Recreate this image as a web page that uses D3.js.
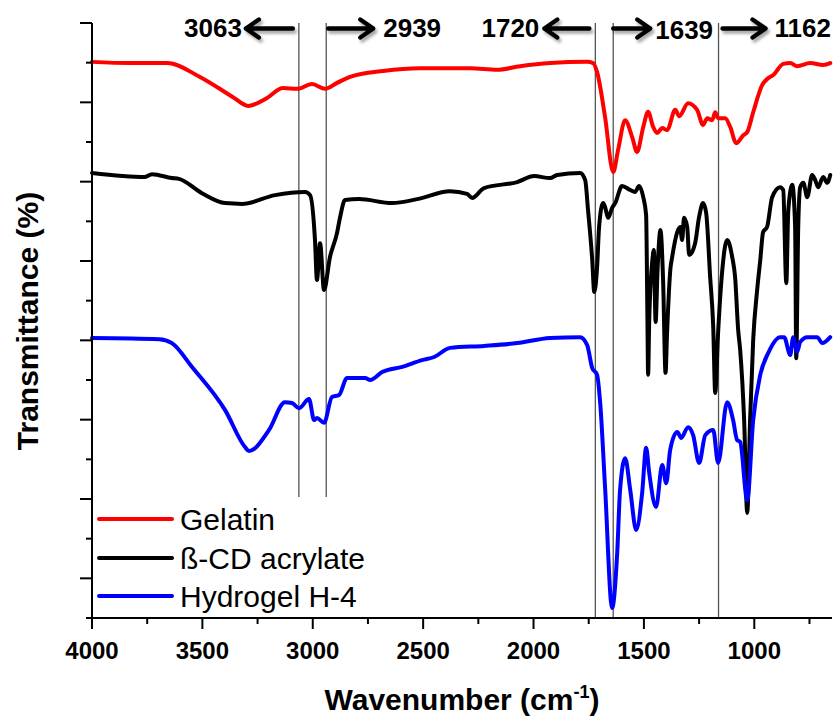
<!DOCTYPE html>
<html>
<head>
<meta charset="utf-8">
<script src="https://cdn.jsdelivr.net/npm/d3@7"></script>
<style>
  html, body { margin: 0; padding: 0; background: #fff; }
  svg { display: block; }
  text { font-family: Arial, "Liberation Sans", Helvetica, sans-serif; }
</style>
</head>
<body>
<svg id="chart" width="837" height="716"></svg>
<script>
// ---------------- data (wavenumber cm-1, relative transmittance) ----------------
const seriesNames = ["Gelatin", "ß-CD acrylate", "Hydrogel H-4"];
const seriesColors = ["#ff0000", "#000000", "#0000ff"];

const gelatin = [[4000,140.2],[3828,139.9],[3660,139.9],[3511,136.4],[3361,131.3],[3293,129.1],[3207,131.1],[3135,133.6],[3071,133.4],[3003,134.6],[2944,133.4],[2890,134.9],[2831,136.4],[2681,137.9],[2514,138.6],[2287,138.6],[2165,138.2],[2061,139.1],[1925,139.9],[1757,140.2],[1730,139.9],[1712,137.6],[1676,126.3],[1639,112.4],[1617,118.0],[1585,125.5],[1553,121.2],[1531,117.5],[1503,123.8],[1481,127.6],[1458,123.8],[1440,122.3],[1417,123.5],[1395,123.0],[1358,128.1],[1340,126.5],[1300,129.8],[1259,128.1],[1232,124.3],[1213,126.0],[1191,125.5],[1177,127.5],[1164,126.0],[1132,126.0],[1109,123.8],[1082,119.7],[1050,121.7],[1032,122.5],[1005,127.5],[964,134.4],[937,136.1],[914,136.9],[869,139.7],[837,139.9],[806,139.1],[747,139.9],[688,139.4],[656,139.9]];

const acrylate = [[4000,112.2],[3760,111.2],[3728,111.9],[3638,110.9],[3606,110.7],[3502,107.1],[3397,104.6],[3320,104.4],[3171,106.6],[3035,107.4],[3012,106.6],[2990,95.3],[2981,85.2],[2967,94.5],[2949,82.7],[2922,91.0],[2890,97.1],[2876,101.1],[2854,105.4],[2790,105.6],[2641,104.6],[2527,105.6],[2378,107.6],[2301,106.9],[2278,105.9],[2224,108.4],[2074,109.9],[1997,111.4],[1925,110.9],[1893,111.7],[1789,112.2],[1766,110.4],[1753,102.8],[1734,90.2],[1725,82.2],[1712,88.5],[1703,98.6],[1685,104.6],[1676,103.6],[1662,100.9],[1644,103.4],[1630,104.6],[1599,108.9],[1562,107.9],[1540,107.4],[1522,108.9],[1503,106.1],[1490,101.6],[1484,75.0],[1481,61.3],[1476,75.0],[1462,90.0],[1455,92.8],[1447,74.6],[1438,88.0],[1425,97.8],[1413,85.0],[1402,61.8],[1395,72.0],[1380,88.0],[1372,91.0],[1349,97.3],[1336,98.6],[1327,95.3],[1318,100.9],[1304,98.6],[1295,91.5],[1268,94.5],[1250,101.1],[1232,104.6],[1218,102.1],[1200,86.0],[1186,73.4],[1177,56.7],[1164,71.8],[1145,87.7],[1123,95.3],[1100,91.0],[1087,86.0],[1073,72.6],[1064,67.6],[1046,49.9],[1032,26.5],[1019,49.9],[1005,70.1],[987,82.7],[973,90.2],[960,97.3],[942,98.6],[919,106.1],[883,108.6],[869,107.9],[855,84.4],[846,102.8],[828,109.2],[815,98.6],[810,65.5],[801,98.6],[792,108.6],[778,109.7],[760,106.1],[738,111.7],[724,110.4],[711,108.6],[688,111.2],[670,109.7],[656,111.7]];

const hydrogel = [[4000,70.6],[3696,70.3],[3638,69.3],[3547,63.3],[3397,52.4],[3307,43.1],[3289,42.1],[3198,47.4],[3126,54.4],[3094,54.2],[3062,52.9],[3017,55.2],[2994,49.9],[2981,50.4],[2949,49.2],[2913,55.7],[2881,56.2],[2845,60.5],[2763,60.5],[2740,60.0],[2686,62.0],[2595,63.3],[2505,65.0],[2450,65.8],[2378,68.1],[2224,68.6],[2074,69.3],[1925,70.6],[1789,70.8],[1757,68.8],[1734,63.0],[1712,61.3],[1698,54.2],[1676,33.0],[1644,2.5],[1621,16.4],[1608,32.3],[1585,40.3],[1562,32.3],[1535,22.2],[1508,31.5],[1490,42.9],[1476,36.6],[1445,28.0],[1417,38.6],[1399,34.0],[1381,42.4],[1349,46.9],[1331,45.4],[1300,48.1],[1277,46.1],[1250,39.1],[1222,46.1],[1186,47.4],[1164,39.1],[1123,54.4],[1096,49.9],[1078,44.9],[1064,44.4],[1032,29.7],[1005,49.9],[973,61.3],[937,66.8],[883,70.8],[865,70.8],[837,66.3],[824,70.8],[806,67.1],[792,69.6],[760,70.8],[715,70.8],[692,69.3],[656,70.8]];

const xMajorTicks = [4000, 3500, 3000, 2500, 2000, 1500, 1000];
const xMinorTicks = [3750, 3250, 2750, 2250, 1750, 1250, 750];
const yTicks = d3.range(0, 151, 10);
const markerLines = [3063, 2939, 1720, 1639, 1162];
const markerLabels = ["3063", "2939", "1720", "1639", "1162"];

// ---------------- layout ----------------
const svg = d3.select("#chart");
const L = 92, R = 832, T = 23, B = 618;
const x = d3.scaleLinear().domain([4000, 648]).range([L, R]);
const y = d3.scaleLinear().domain([0, 150]).range([B, T]);

const defs = svg.append("defs");
const f = defs.append("filter").attr("id", "shadow").attr("x", "-20%").attr("y", "-50%").attr("width", "140%").attr("height", "200%");
f.append("feDropShadow").attr("dx", 2).attr("dy", 3).attr("stdDeviation", 1.6)
  .attr("flood-color", "#000").attr("flood-opacity", 0.35);

// vertical marker lines
const lineBottoms = [497, 497, B, B, B];
svg.append("g").selectAll("line").data(markerLines).join("line")
  .attr("x1", d => x(d)).attr("x2", d => x(d))
  .attr("y1", T).attr("y2", (d, i) => lineBottoms[i])
  .attr("stroke", "#555").attr("stroke-width", 1.3);

// curves
const lineGen = d3.line().x(d => x(d[0])).y(d => y(d[1])).curve(d3.curveMonotoneX);
const allSeries = [gelatin, acrylate, hydrogel];
svg.append("g").selectAll("path").data(allSeries).join("path")
  .attr("d", lineGen)
  .attr("fill", "none")
  .attr("stroke", (d, i) => seriesColors[i])
  .attr("stroke-width", 4)
  .attr("stroke-linejoin", "round")
  .attr("stroke-linecap", "round");

// axes
const ax = svg.append("g");
ax.append("line").attr("x1", L).attr("x2", L).attr("y1", T).attr("y2", B + 1)
  .attr("stroke", "#000").attr("stroke-width", 2);
ax.append("line").attr("x1", L - 1).attr("x2", R).attr("y1", B).attr("y2", B)
  .attr("stroke", "#000").attr("stroke-width", 2);

ax.selectAll(".yt").data(yTicks).join("line")
  .attr("x1", d => ((150 - d) / 10) % 2 === 0 ? L - 12 : L - 6).attr("x2", L)
  .attr("y1", d => y(d)).attr("y2", d => y(d))
  .attr("stroke", "#000").attr("stroke-width", 2);

ax.selectAll(".xM").data(xMajorTicks).join("line")
  .attr("x1", d => x(d)).attr("x2", d => x(d)).attr("y1", B).attr("y2", B + 11)
  .attr("stroke", "#000").attr("stroke-width", 2);
ax.selectAll(".xm").data(xMinorTicks).join("line")
  .attr("x1", d => x(d)).attr("x2", d => x(d)).attr("y1", B).attr("y2", B + 6)
  .attr("stroke", "#000").attr("stroke-width", 2);
ax.selectAll(".xl").data(xMajorTicks).join("text")
  .attr("x", d => x(d)).attr("y", 659).attr("text-anchor", "middle")
  .attr("font-size", 24).attr("font-weight", "bold").text(d => d);

// axis titles
const xt = svg.append("text").attr("x", 462).attr("y", 710).attr("text-anchor", "middle")
  .attr("font-size", 30).attr("font-weight", "bold");
xt.append("tspan").text("Wavenumber (cm");
xt.append("tspan").attr("font-size", 18).attr("dy", -12).text("-1");
xt.append("tspan").attr("dy", 12).text(")");

svg.append("text").attr("transform", "translate(38,321) rotate(-90)")
  .attr("text-anchor", "middle").attr("font-size", 30).attr("font-weight", "bold")
  .text("Transmittance (%)");

// legend
const lg = svg.append("g");
const legendY = [519, 558, 596];
seriesNames.forEach((n, i) => {
  lg.append("line").attr("x1", 99).attr("x2", 172).attr("y1", legendY[i]).attr("y2", legendY[i])
    .attr("stroke", seriesColors[i]).attr("stroke-width", 4).attr("stroke-linecap", "round");
  lg.append("text").attr("x", 180).attr("y", legendY[i]).attr("dy", "0.36em")
    .attr("font-size", 30).text(n);
});

// annotations: direction, arrow start offset, arrow end offset, text offset
const annot = [
  {dir: -1, a0: -6, a1: -53, t: -57, ty: 37},
  {dir: 1, a0: 2, a1: 47, t: 57, ty: 37},
  {dir: -1, a0: -6, a1: -51, t: -56, ty: 37},
  {dir: 1, a0: 0, a1: 37, t: 42, ty: 39},
  {dir: 1, a0: 4, a1: 47, t: 56, ty: 37}
];
const ag = svg.append("g");
markerLines.forEach((w, i) => {
  const a = annot[i];
  const x0 = x(w) + a.a0, x1 = x(w) + a.a1, yy = 28.5;
  const tip = x1;
  const head = `M${tip - a.dir * 13},${yy - 9} L${tip},${yy} L${tip - a.dir * 13},${yy + 9}`;
  ag.append("path").attr("d", `M${x0},${yy} L${tip},${yy} ${head}`)
    .attr("fill", "none").attr("stroke", "#000").attr("stroke-width", 4.4)
    .attr("stroke-linejoin", "round").attr("stroke-linecap", "round")
    .attr("filter", "url(#shadow)");
  ag.append("text").attr("x", x(w) + a.t).attr("y", a.ty)
    .attr("text-anchor", a.dir < 0 ? "end" : "start")
    .attr("font-size", 26).attr("font-weight", "bold")
    .text(markerLabels[i]);
});
</script>
</body>
</html>
